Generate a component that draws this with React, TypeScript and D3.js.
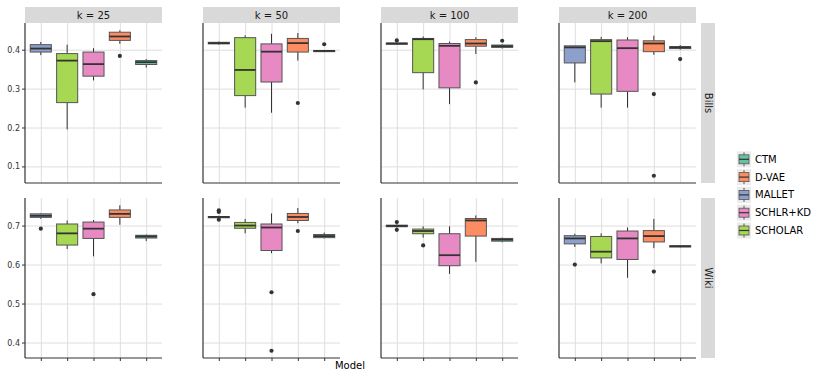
import React, { useEffect, useRef } from "react";
import * as d3 from "d3";

const models = ["MALLET", "SCHOLAR", "SCHLR+KD", "D-VAE", "CTM"];
const legendOrder = ["CTM", "D-VAE", "MALLET", "SCHLR+KD", "SCHOLAR"];
const colors: Record<string, string> = {
  CTM: "#66c2a5",
  "D-VAE": "#fc8d62",
  MALLET: "#8da0cb",
  "SCHLR+KD": "#e78ac3",
  SCHOLAR: "#a6d854",
};
const kValues = [25, 50, 100, 200];
const datasets = ["Bills", "Wiki"];
const billsTicks = [0.1, 0.2, 0.3, 0.4];
const wikiTicks = [0.4, 0.5, 0.6, 0.7];

// [lower whisker, q1, median, q3, upper whisker, outliers] in the order of `models`
type Stat = [number, number, number, number, number, number[]];

const bills25: Stat[] = [
  [0.386, 0.394, 0.403, 0.413, 0.42, []],
  [0.195, 0.264, 0.372, 0.39, 0.413, []],
  [0.321, 0.332, 0.363, 0.394, 0.404, []],
  [0.415, 0.424, 0.434, 0.445, 0.45, [0.384]],
  [0.354, 0.362, 0.368, 0.372, 0.376, []],
];
const bills50: Stat[] = [
  [0.413, 0.415, 0.417, 0.419, 0.421, []],
  [0.251, 0.282, 0.348, 0.431, 0.437, []],
  [0.238, 0.317, 0.395, 0.415, 0.441, []],
  [0.372, 0.394, 0.417, 0.429, 0.443, [0.263]],
  [0.394, 0.395, 0.397, 0.398, 0.399, [0.414]],
];
const bills100: Stat[] = [
  [0.413, 0.414, 0.416, 0.417, 0.418, [0.424]],
  [0.298, 0.341, 0.427, 0.429, 0.434, []],
  [0.26, 0.302, 0.41, 0.416, 0.421, []],
  [0.389, 0.409, 0.416, 0.426, 0.432, [0.316]],
  [0.403, 0.406, 0.409, 0.412, 0.414, [0.423]],
];
const bills200: Stat[] = [
  [0.316, 0.366, 0.406, 0.41, 0.41, []],
  [0.251, 0.286, 0.422, 0.426, 0.433, []],
  [0.251, 0.293, 0.404, 0.425, 0.432, []],
  [0.387, 0.395, 0.416, 0.423, 0.436, [0.286, 0.076]],
  [0.4, 0.403, 0.406, 0.408, 0.412, [0.376]],
];
const wiki25: Stat[] = [
  [0.717, 0.721, 0.725, 0.73, 0.732, [0.692]],
  [0.64, 0.65, 0.68, 0.704, 0.713, []],
  [0.621, 0.667, 0.692, 0.709, 0.714, [0.524]],
  [0.702, 0.721, 0.73, 0.74, 0.752, []],
  [0.66, 0.668, 0.672, 0.675, 0.677, []],
];
const wiki50: Stat[] = [
  [0.718, 0.72, 0.722, 0.723, 0.725, [0.739, 0.735, 0.715]],
  [0.68, 0.693, 0.7, 0.708, 0.717, []],
  [0.629, 0.636, 0.695, 0.704, 0.731, [0.529, 0.379]],
  [0.706, 0.713, 0.722, 0.731, 0.745, [0.686]],
  [0.667, 0.669, 0.673, 0.677, 0.682, []],
];
const wiki100: Stat[] = [
  [0.695, 0.697, 0.699, 0.701, 0.703, [0.709, 0.689]],
  [0.669, 0.679, 0.686, 0.691, 0.698, [0.649]],
  [0.576, 0.597, 0.624, 0.679, 0.698, []],
  [0.607, 0.673, 0.713, 0.718, 0.726, []],
  [0.657, 0.66, 0.664, 0.667, 0.669, []],
];
const wiki200: Stat[] = [
  [0.645, 0.653, 0.667, 0.674, 0.679, [0.6]],
  [0.603, 0.617, 0.633, 0.672, 0.68, []],
  [0.566, 0.613, 0.667, 0.686, 0.695, []],
  [0.642, 0.658, 0.673, 0.687, 0.717, [0.582]],
  [0.644, 0.645, 0.647, 0.648, 0.649, []],
];

const rows = [
  { ticks: billsTicks, panels: [bills25, bills50, bills100, bills200] },
  { ticks: wikiTicks, panels: [wiki25, wiki50, wiki100, wiki200] },
];

const FONT = "DejaVu Sans, sans-serif";

export default function App() {
  const svgRef = useRef<SVGSVGElement>(null);

  useEffect(() => {
    const svg = d3.select(svgRef.current);
    svg.selectAll("*").remove();

    const panelX0 = 25,
      panelStep = 178,
      panelW = 137,
      panelH = 160;
    const rowTop = [23, 198];

    rows.forEach((row, r) => {
      // shared free y scale per row, ggplot-like 5% expansion
      const all = row.panels.flatMap((p) => p.flatMap((s) => [s[0], s[4], ...s[5]]));
      const [lo, hi] = d3.extent(all) as [number, number];
      const pad = (hi - lo) * 0.05;
      const y = d3.scaleLinear().domain([lo - pad, hi + pad]).range([panelH, 0]);

      row.panels.forEach((stats, c) => {
        const g = svg
          .append("g")
          .attr("transform", `translate(${panelX0 + c * panelStep},${rowTop[r]})`);
        const x = d3.scalePoint().domain(models).range([0, panelW]).padding(0.6);
        const bw = x.step() * 0.8;

        // grid
        g.append("g")
          .call(d3.axisLeft(y).tickValues(row.ticks).tickSize(-panelW).tickFormat(() => ""))
          .call((a) => a.select(".domain").remove())
          .call((a) => a.selectAll(".tick line").attr("stroke", "#dedede").attr("stroke-width", 1));
        g.append("g")
          .attr("transform", `translate(0,${panelH})`)
          .call(d3.axisBottom(x).tickSize(-panelH).tickFormat(() => ""))
          .call((a) => a.select(".domain").remove())
          .call((a) => a.selectAll(".tick line").attr("stroke", "#dedede").attr("stroke-width", 1));

        // y axis labels only in first column
        if (c === 0) {
          g.append("g")
            .call(d3.axisLeft(y).tickValues(row.ticks).tickSize(3).tickPadding(2).tickFormat(d3.format(".1f")))
            .call((a) => a.select(".domain").remove())
            .call((a) => a.selectAll(".tick line").attr("stroke", "#333"))
            .call((a) =>
              a.selectAll("text").attr("fill", "#333").attr("font-size", 8).attr("font-family", FONT)
            );
        }
        // x ticks only on bottom row
        if (r === 1) {
          g.append("g")
            .attr("transform", `translate(0,${panelH})`)
            .call(d3.axisBottom(x).tickSize(3).tickFormat(() => ""))
            .call((a) => a.select(".domain").remove())
            .call((a) => a.selectAll(".tick line").attr("stroke", "#333"));
        }

        // axis lines
        g.append("line").attr("x1", 0).attr("x2", 0).attr("y1", 0).attr("y2", panelH)
          .attr("stroke", "#333").attr("stroke-width", 1.2);
        g.append("line").attr("x1", 0).attr("x2", panelW).attr("y1", panelH).attr("y2", panelH)
          .attr("stroke", "#333").attr("stroke-width", 1.2);

        // boxes
        stats.forEach((s, i) => {
          const m = models[i];
          const cx = x(m) as number;
          const [wl, q1, med, q3, wh, outs] = s;
          const bg = g.append("g");
          bg.append("line").attr("x1", cx).attr("x2", cx).attr("y1", y(q3)).attr("y2", y(wh))
            .attr("stroke", "#333").attr("stroke-width", 1);
          bg.append("line").attr("x1", cx).attr("x2", cx).attr("y1", y(q1)).attr("y2", y(wl))
            .attr("stroke", "#333").attr("stroke-width", 1);
          bg.append("rect")
            .attr("x", cx - bw / 2).attr("width", bw)
            .attr("y", y(q3)).attr("height", Math.max(y(q1) - y(q3), 0.5))
            .attr("fill", colors[m]).attr("stroke", "#555").attr("stroke-width", 1);
          bg.append("line").attr("x1", cx - bw / 2).attr("x2", cx + bw / 2)
            .attr("y1", y(med)).attr("y2", y(med))
            .attr("stroke", "#333").attr("stroke-width", 1.8);
          bg.selectAll("circle.out").data(outs).enter().append("circle")
            .attr("cx", cx).attr("cy", (d) => y(d)).attr("r", 2.1).attr("fill", "#333");
        });

        // top strips
        if (r === 0) {
          const st = svg.append("g").attr("transform", `translate(${panelX0 + c * panelStep},7)`);
          st.append("rect").attr("width", panelW).attr("height", 16).attr("fill", "#d9d9d9");
          st.append("text").attr("x", panelW / 2).attr("y", 8).attr("text-anchor", "middle")
            .attr("dominant-baseline", "central").attr("font-size", 10).attr("font-family", FONT)
            .attr("fill", "#1a1a1a").text(`k = ${kValues[c]}`);
        }
      });

      // right strip
      const rs = svg.append("g").attr("transform", `translate(701,${rowTop[r]})`);
      rs.append("rect").attr("width", 14).attr("height", panelH).attr("fill", "#d9d9d9");
      rs.append("text")
        .attr("transform", `translate(7,${panelH / 2}) rotate(90)`)
        .attr("text-anchor", "middle").attr("dominant-baseline", "central")
        .attr("font-size", 10).attr("font-family", FONT).attr("fill", "#1a1a1a")
        .text(datasets[r]);
    });

    // x axis title
    svg.append("text").attr("x", 350).attr("y", 369).attr("text-anchor", "middle")
      .attr("font-size", 10).attr("font-family", FONT).attr("fill", "#000").text("Model");

    // legend
    const lg = svg.append("g").attr("transform", "translate(737,0)");
    legendOrder.forEach((m, i) => {
      const yc = 159.3 + i * 17.8;
      const k = lg.append("g");
      k.append("rect").attr("x", 0).attr("y", yc - 8).attr("width", 14).attr("height", 16).attr("fill", "#ebebeb");
      k.append("line").attr("x1", 7).attr("x2", 7).attr("y1", yc - 7).attr("y2", yc + 7)
        .attr("stroke", "#333").attr("stroke-width", 0.8);
      k.append("rect").attr("x", 2).attr("y", yc - 4.5).attr("width", 10).attr("height", 9)
        .attr("fill", colors[m]).attr("stroke", "#555").attr("stroke-width", 0.8);
      k.append("line").attr("x1", 2).attr("x2", 12).attr("y1", yc).attr("y2", yc)
        .attr("stroke", "#333").attr("stroke-width", 1.2);
      k.append("text").attr("x", 18).attr("y", yc).attr("dominant-baseline", "central")
        .attr("font-size", 10).attr("font-family", FONT).attr("fill", "#000").text(m);
    });
  }, []);

  return (
    <svg
      ref={svgRef}
      width={830}
      height={379}
      style={{ position: "absolute", left: 0, top: 0, background: "#fff" }}
    />
  );
}
